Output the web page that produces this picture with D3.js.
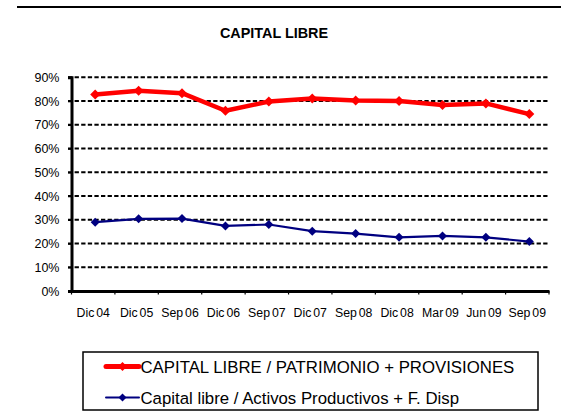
<!DOCTYPE html>
<html><head><meta charset="utf-8">
<script src="https://cdn.jsdelivr.net/npm/d3@7"></script>
<style>body{margin:0;background:#fff;font-family:"Liberation Sans",Arial,sans-serif;}</style>
</head><body><svg id="c" width="561" height="412"></svg>
<script>
const categories = ["Dic 04","Dic 05","Sep 06","Dic 06","Sep 07","Dic 07","Sep 08","Dic 08","Mar 09","Jun 09","Sep 09"];
const seriesPatrimonio = [0.828,0.843,0.833,0.759,0.798,0.811,0.802,0.800,0.783,0.790,0.745];
const seriesActivos = [0.290,0.304,0.305,0.274,0.280,0.252,0.242,0.226,0.232,0.226,0.208];
const yTicks = [0,0.1,0.2,0.3,0.4,0.5,0.6,0.7,0.8,0.9];
const legendLabels = ["CAPITAL LIBRE / PATRIMONIO + PROVISIONES","Capital libre / Activos Productivos + F. Disp"];
const title = "CAPITAL LIBRE";

const FF = "Liberation Sans, Arial, sans-serif";
const svg = d3.select("#c");
const L = 71.5, R = 549, T = 77.3, B = 291;
const x = d3.scaleBand().domain(categories).range([L, R]);
const y = d3.scaleLinear().domain([0, 0.9]).range([B, T]);

// top rule
svg.append("line").attr("x1",17).attr("x2",561).attr("y1",7).attr("y2",7).attr("stroke","#000").attr("stroke-width",2);

svg.append("text").attr("x",274).attr("y",38).attr("text-anchor","middle").attr("font-family",FF)
  .attr("font-size",14.4).attr("font-weight","bold").text(title);

// grid
svg.append("g").selectAll("line").data(yTicks.filter(d=>d>0)).join("line")
  .attr("x1",L-3.5).attr("x2",R).attr("y1",d=>y(d)).attr("y2",d=>y(d))
  .attr("stroke","#000").attr("stroke-width",2).attr("stroke-dasharray","4.3,2.3");

// y axis
const yAxis = svg.append("g").attr("transform",`translate(${L},0)`)
  .call(d3.axisLeft(y).tickValues(yTicks).tickFormat(d3.format(".0%")).tickSize(3.5).tickPadding(8));
yAxis.select(".domain").attr("stroke-width",3);
yAxis.selectAll(".tick line").attr("stroke-width",1.5);
yAxis.selectAll("text").attr("font-size",12.5).attr("font-family",FF).attr("fill","#000").attr("dx",-0.5);

// x axis
const xAxis = svg.append("g").attr("transform",`translate(0,${B})`)
  .call(d3.axisBottom(x).tickSize(0).tickPadding(17));
xAxis.select(".domain").attr("stroke-width",3);
xAxis.selectAll("text").attr("font-size",12.3).attr("font-family",FF).attr("fill","#000")
  .attr("word-spacing","-1.5px");
svg.append("g").selectAll("line").data(d3.range(categories.length+1)).join("line")
  .attr("x1",i=>L + i*x.bandwidth()).attr("x2",i=>L + i*x.bandwidth())
  .attr("y1",B).attr("y2",B+3.5).attr("stroke","#000").attr("stroke-width",1.2);

const cx = (d,i)=>x(categories[i]) + x.bandwidth()/2 + 2;
const diamond = s => `M0,${-s}L${s},0L0,${s}L${-s},0Z`;

function drawSeries(data, color, lw, ms){
  const line = d3.line().x((d,i)=>cx(d,i)).y(d=>y(d));
  svg.append("path").datum(data).attr("d",line).attr("fill","none")
    .attr("stroke",color).attr("stroke-width",lw).attr("stroke-linejoin","round");
  svg.append("g").selectAll("path").data(data).join("path")
    .attr("transform",(d,i)=>`translate(${cx(d,i)},${y(d)})`)
    .attr("d",diamond(ms)).attr("fill",color);
}
drawSeries(seriesPatrimonio, "#ff0000", 4.5, 5);
drawSeries(seriesActivos, "#000080", 2.2, 4.5);

// legend
const lg = svg.append("g");
lg.append("rect").attr("x",83).attr("y",352).attr("width",455).attr("height",58)
  .attr("fill","#fff").attr("stroke","#000").attr("stroke-width",1.5);
const colors = ["#ff0000","#000080"], lws=[5,2], mss=[4.5,4];
const ly = [366.5, 397.5];
legendLabels.forEach((t,i)=>{
  lg.append("line").attr("x1",106).attr("x2",139).attr("y1",ly[i]).attr("y2",ly[i])
    .attr("stroke",colors[i]).attr("stroke-width",lws[i]).attr("stroke-linecap","round");
  lg.append("path").attr("transform",`translate(122.5,${ly[i]})`).attr("d",diamond(mss[i])).attr("fill",colors[i]);
  lg.append("text").attr("x",140.5).attr("y",ly[i]+6).attr("font-family",FF).attr("font-size",16.8).attr("fill","#000").text(t);
});
</script></body></html>
